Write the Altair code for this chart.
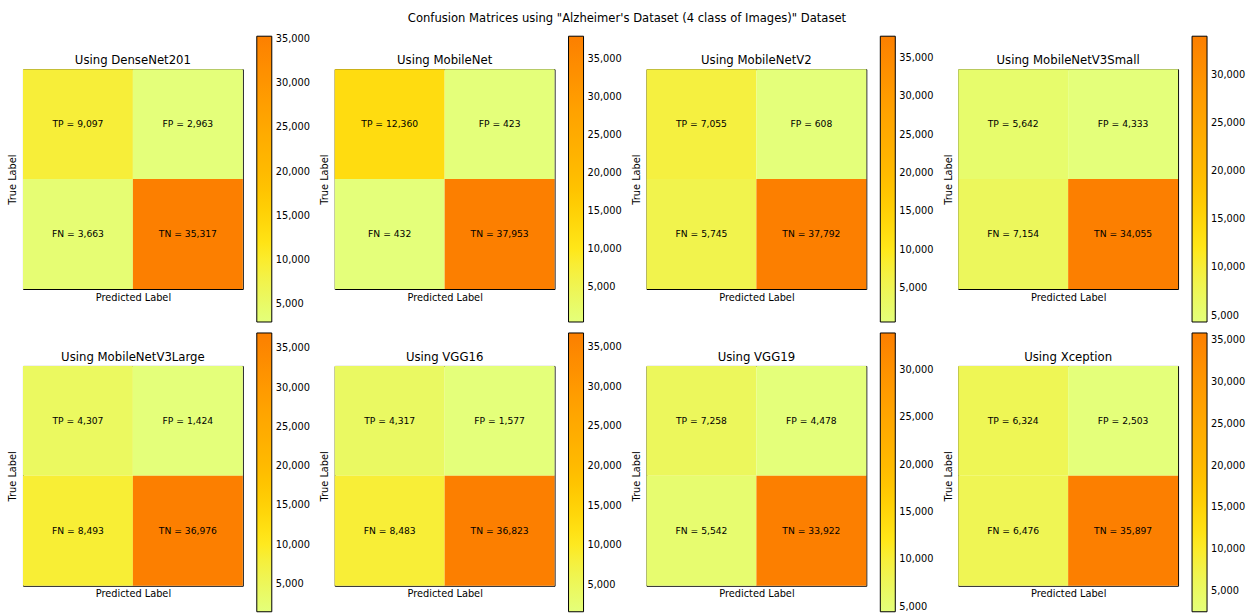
import altair as alt
import pandas as pd

models = ["DenseNet201", "MobileNet", "MobileNetV2", "MobileNetV3Small",
          "MobileNetV3Large", "VGG16", "VGG19", "Xception"]
tp = [9097, 12360, 7055, 5642, 4307, 4317, 7258, 6324]
fp = [2963, 423, 608, 4333, 1424, 1577, 4478, 2503]
fn = [3663, 432, 5745, 7154, 8493, 8483, 5542, 6476]
tn = [35317, 37953, 37792, 34055, 36976, 36823, 33922, 35897]
tick_step = 5000

WISTIA = ["#e4ff7a", "#ffe81a", "#ffbd00", "#ffa000", "#fc7f00"]
FONT = "DejaVu Sans"


def panel(i, row):
    vals = [tp[i], fp[i], fn[i], tn[i]]
    df = pd.DataFrame({
        "pred": [0, 1, 0, 1],
        "true": [0, 0, 1, 1],
        "value": vals,
        "label": [f"{k} = {v:,}" for k, v in zip(["TP", "FP", "FN", "TN"], vals)],
    })
    lo, hi = min(vals), max(vals)
    dom = [lo + (hi - lo) * f for f in (0, 0.25, 0.5, 0.75, 1)]
    ticks = [v for v in range(tick_step, hi + 1, tick_step) if v >= lo]
    x = alt.X("pred:O", axis=alt.Axis(labels=False, ticks=False, domain=False,
                                      title="Predicted Label", titlePadding=3))
    y = alt.Y("true:O", axis=alt.Axis(labels=False, ticks=False, domain=False,
                                      title="True Label", titlePadding=5))
    base = alt.Chart(df)
    rect = base.mark_rect().encode(
        x=x, y=y,
        color=alt.Color("value:Q", scale=alt.Scale(domain=dom, range=WISTIA),
                        legend=alt.Legend(
                            orient="none", legendX=234, legendY=-33,
                            direction="vertical", title=None,
                            gradientLength=286 if row == 0 else 279,
                            gradientThickness=15,
                            gradientStrokeColor="black", gradientStrokeWidth=1,
                            values=ticks, format=",.0f", labelOverlap=False,
                            labelOffset=4, labelFontSize=9.8, labelColor="black",
                            labelFont=FONT)),
    )
    text = base.mark_text(fontSize=9.2, color="black", font=FONT).encode(
        x=x, y=y, text="label:N")
    title = alt.Chart(pd.DataFrame({"t": [f"Using {models[i]}"]})).mark_text(
        fontSize=11.7, font=FONT, color="black", baseline="alphabetic", align="center"
    ).encode(x=alt.value(110), y=alt.value(-5), text="t:N")
    return (rect + text + title).properties(width=220, height=220)


charts = [panel(i, 0 if i < 4 else 1) for i in range(8)]

chart = alt.concat(
    *charts, columns=4, spacing={"row": 77, "column": 92}, bounds="flush",
    title=alt.TitleParams(
        "Confusion Matrices using \"Alzheimer's Dataset (4 class of Images)\" Dataset",
        fontSize=11.6, font=FONT, fontWeight="normal", color="black",
        anchor="middle", offset=11),
).resolve_scale(color="independent").resolve_legend(color="independent").configure_view(
    stroke="black", strokeWidth=1
).configure_axis(
    titleFont=FONT, titleFontSize=9.8, titleFontWeight="normal", titleColor="black", grid=False
).properties(
    padding={"left": 7, "top": 12, "right": 5, "bottom": 0}
)

chart.save("out.html", embed_options={"renderer": "svg", "actions": False})
